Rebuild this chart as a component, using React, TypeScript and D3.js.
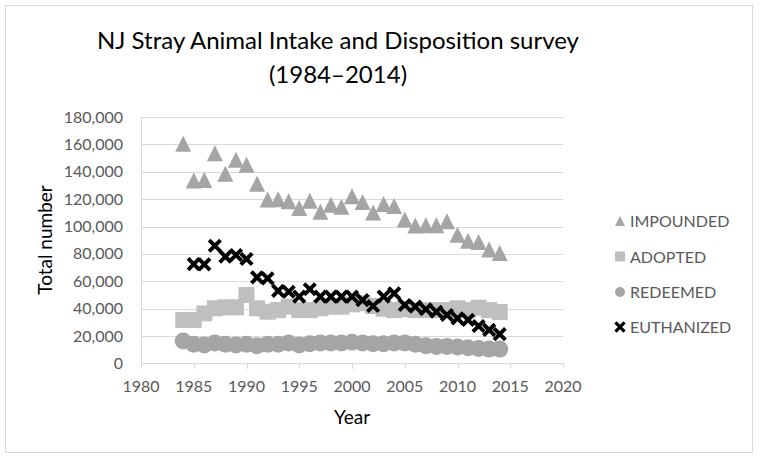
import React from 'react';
import * as d3 from 'd3';

const years = d3.range(1984, 2015);
const impounded = [160400, 133600, 134000, 153600, 138500, 148800, 145100, 131200, 119800, 120000, 118400, 113600,
  118900, 110800, 115900, 114500, 122100, 117900, 110200, 116400, 115000, 105100, 100800, 101000, 101000, 103800,
  94000, 89700, 88700, 83200, 80700];
const adopted = [31800, 31800, 36600, 40300, 41000, 41000, 50000, 40300, 37800, 39000, 41500, 39000, 39000, 40300,
  41500, 41500, 43200, 44000, 42000, 40000, 39000, 39800, 39000, 39000, 39000, 39000, 40300, 39000, 40700, 39000, 37600];
const redeemed = [16500, 14000, 13500, 15000, 14000, 13500, 14000, 13000, 14000, 14000, 15000, 13500, 14500, 15000,
  15000, 15000, 15500, 15000, 14500, 14500, 15000, 15000, 14000, 13000, 12500, 12500, 12000, 11500, 11000, 10500, 10500];
// no euthanized figure for 1984
const euthYears = d3.range(1985, 2015);
const euthanized = [72600, 72400, 86000, 78000, 79200, 76300, 62900, 62200, 53000, 52400, 48800, 54200, 48800, 48800,
  48800, 48800, 46300, 42000, 48800, 51200, 42700, 41500, 39600, 37800, 35400, 33000, 31800, 27400, 24500, 21500];
const yTicks = d3.range(0, 180001, 20000);
const xTicks = d3.range(1980, 2021, 5);
const legendItems = ['IMPOUNDED', 'ADOPTED', 'REDEEMED', 'EUTHANIZED'];

const FONT = 'Lato, "Liberation Sans", sans-serif';
const GRID = '#d9d9d9';
const TXT = '#595959';

function Marker({kind, x, y, s}: {kind: string, x: number, y: number, s: number}) {
  if (kind === 'IMPOUNDED') {
    const h = s / 2;
    return <path d={`M${x},${y - h}L${x + h},${y + h}L${x - h},${y + h}Z`} fill="#a5a5a5"/>;
  }
  if (kind === 'ADOPTED') {
    return <rect x={x - s / 2} y={y - s / 2} width={s} height={s} fill="#bfbfbf"/>;
  }
  if (kind === 'REDEEMED') {
    return <circle cx={x} cy={y} r={s / 2} fill="#a5a5a5"/>;
  }
  const h = s * 0.38;
  return <path d={`M${x - h},${y - h}L${x + h},${y + h}M${x - h},${y + h}L${x + h},${y - h}`}
               stroke="#000" strokeWidth={s * 0.26} fill="none"/>;
}

export default function App() {
  const width = 760, height = 460;
  const x = d3.scaleLinear().domain([1980, 2020]).range([141, 563]);
  const y = d3.scaleLinear().domain([0, 180000]).range([363.5, 117]);
  const fmt = d3.format(',');

  const legendY = [221, 256.5, 292, 327];

  return (
    <svg width={width} height={height} style={{position: 'fixed', left: 0, top: 0, background: '#fff'}}
         fontFamily={FONT}>
      <rect x={0} y={0} width={width} height={height} fill="#fff"/>
      <rect x={5.5} y={5.5} width={747} height={447} fill="#fff" stroke={GRID}/>
      <text x={338} y={49} textAnchor="middle" fontSize={24} fill="#000">NJ Stray Animal Intake and Disposition survey</text>
      <text x={338} y={83} textAnchor="middle" fontSize={24} fill="#000">(1984–2014)</text>

      {yTicks.map(t => (
        <g key={t}>
          {t > 0 && <line x1={141} x2={563} y1={Math.round(y(t)) + 0.5} y2={Math.round(y(t)) + 0.5} stroke={GRID}/>}
          <text x={123} y={y(t) + 5.5} textAnchor="end" fontSize={16} fill={TXT}>{fmt(t)}</text>
        </g>
      ))}
      <line x1={141.5} x2={141.5} y1={117} y2={363.5} stroke={GRID}/>
      <line x1={141} x2={563} y1={363.5} y2={363.5} stroke={GRID}/>
      {xTicks.map(t => (
        <g key={t}>
          <line x1={Math.round(x(t)) + 0.5} x2={Math.round(x(t)) + 0.5} y1={363} y2={369} stroke={GRID}/>
          <text x={x(t)} y={392} textAnchor="middle" fontSize={16} fill={TXT}>{t}</text>
        </g>
      ))}
      <text x={352} y={424} textAnchor="middle" fontSize={19} fill="#000">Year</text>
      <text transform={`translate(52,240) rotate(-90)`} textAnchor="middle" fontSize={19} fill="#000">Total number</text>

      {years.map((yr, i) => <Marker key={'i' + yr} kind="IMPOUNDED" x={x(yr)} y={y(impounded[i])} s={16}/>)}
      {years.map((yr, i) => <Marker key={'a' + yr} kind="ADOPTED" x={x(yr)} y={y(adopted[i])} s={16}/>)}
      {years.map((yr, i) => <Marker key={'r' + yr} kind="REDEEMED" x={x(yr)} y={y(redeemed[i])} s={17}/>)}
      {euthYears.map((yr, i) => <Marker key={'e' + yr} kind="EUTHANIZED" x={x(yr)} y={y(euthanized[i])} s={15}/>)}

      {legendItems.map((name, i) => (
        <g key={name}>
          <Marker kind={name} x={620} y={legendY[i]} s={name === 'EUTHANIZED' ? 12 : 10}/>
          <text x={630} y={legendY[i] + 6} fontSize={16} fill={TXT}>{name}</text>
        </g>
      ))}
    </svg>
  );
}
